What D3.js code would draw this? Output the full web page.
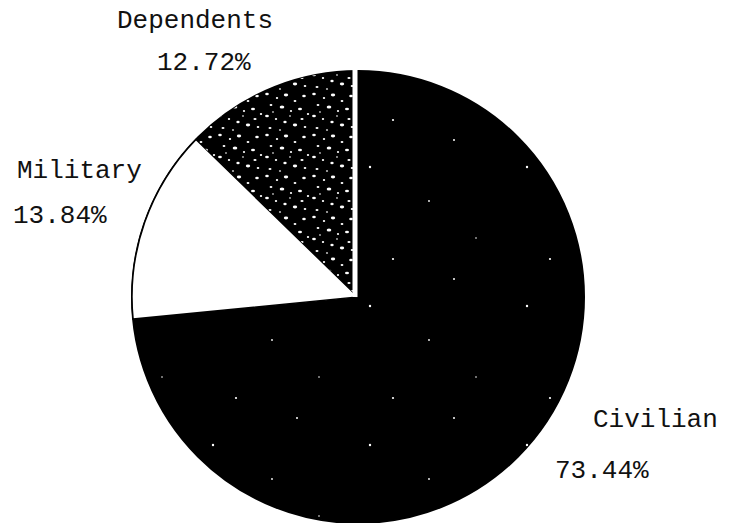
<!DOCTYPE html>
<html>
<head>
<meta charset="utf-8">
<script src="https://cdn.jsdelivr.net/npm/d3@7"></script>
<style>
	body { margin: 0; background: #fff; }
	svg { display: block; }
	.pie-label { font-family: "Liberation Mono", "DejaVu Sans Mono", monospace; font-size: 26px; fill: #111; }
</style>
</head>
<body>
<div id="chart-area"></div>
<script>
// Data
var categories = ["Civilian", "Military", "Dependents"];
var shares = [73.44, 13.84, 12.72];
var pctLabels = ["73.44%", "13.84%", "12.72%"];

/*
	Pie Chart Class
*/
class PieChart{

	constructor(_parentElement, _width, _height){
		this.parentElement = _parentElement;
		this.svgWidth = _width;
		this.svgHeight = _height;

		this.initializeChart();
	}

	initializeChart(){
		var vis = this;

		vis.cx = 358;
		vis.cy = 297;
		vis.radius = 226;

		vis.svg = d3.select(vis.parentElement)
					.append("svg")
					.attr("width", vis.svgWidth)
					.attr("height", vis.svgHeight);

		// Speckle patterns (just texture, the scanned original is grainy)
		var defs = vis.svg.append("defs");

		var dense = defs.append("pattern")
			.attr("id", "speckle-dense")
			.attr("patternUnits", "userSpaceOnUse")
			.attr("width", 47).attr("height", 41);
		dense.append("rect").attr("width", 47).attr("height", 41).attr("fill", "#000");
		var spots = [[3,2,1.8,1.2],[13,6,1.2,0.9],[22,3,2.2,1.4],[31,9,1.4,1],[40,4,1.8,1.2],
		             [7,13,1.4,1],[18,15,2.3,1.5],[27,19,1.1,0.9],[36,17,2,1.3],[44,22,1.2,1],
		             [3,24,1.9,1.2],[12,27,1.2,1],[21,30,1.7,1.2],[31,33,2.2,1.4],[41,35,1.3,1],
		             [6,36,1.5,1.1],[16,38,1.1,0.8],[26,24,0.9,0.8],[38,27,1.6,1.1],[9,20,0.9,0.7]];
		dense.selectAll("ellipse").data(spots).enter().append("ellipse")
			.attr("cx", d => d[0]).attr("cy", d => d[1])
			.attr("rx", d => d[2]).attr("ry", d => d[3])
			.attr("fill", "#fff");

		var sparse = defs.append("pattern")
			.attr("id", "speckle-sparse")
			.attr("patternUnits", "userSpaceOnUse")
			.attr("width", 157).attr("height", 139);
		sparse.append("rect").attr("width", 157).attr("height", 139).attr("fill", "#000");
		var dots = [[12,9,1.2],[71,43,0.9],[35,101,1.1],[118,80,0.8],[96,121,1]];
		sparse.selectAll("circle").data(dots).enter().append("circle")
			.attr("cx", d => d[0]).attr("cy", d => d[1]).attr("r", d => d[2])
			.attr("fill", "#fff");

		vis.g = vis.svg.append("g")
			.attr("class", "pie-chart")
			.attr("transform", "translate(" + vis.cx + "," + vis.cy + ")");

		vis.pie = d3.pie().sort(null).value(d => d);
		vis.arc = d3.arc().innerRadius(0).outerRadius(vis.radius);

		vis.fills = ["url(#speckle-sparse)", "#fff", "url(#speckle-dense)"];

		vis.updateChart();
	}

	updateChart(){
		var vis = this;

		vis.arcs = vis.pie(shares);

		// Outline of the whole pie
		vis.g.append("circle")
			.attr("r", vis.radius)
			.attr("fill", "#fff")
			.attr("stroke", "#000")
			.attr("stroke-width", 2);

		// Slices
		vis.g.selectAll(".slice").data(vis.arcs)
			.enter().append("path")
			.attr("class", "slice")
			.attr("d", vis.arc)
			.attr("fill", (d, i) => vis.fills[i])
			.attr("stroke", (d, i) => i == 1 ? "#000" : "none")
			.attr("stroke-width", 1.5);

		// White gap where the last slice meets the first
		var a = vis.arcs[vis.arcs.length - 1].endAngle;
		vis.g.append("line")
			.attr("x1", -3).attr("y1", 0)
			.attr("x2", vis.radius * Math.sin(a) - 3)
			.attr("y2", -vis.radius * Math.cos(a) - 2)
			.attr("stroke", "#fff")
			.attr("stroke-width", 5);

		// Labels (name, then percentage below)
		var labelPos = [
			{name: [593, 427], pct: [555, 478]},
			{name: [17, 178], pct: [13, 223]},
			{name: [117, 28], pct: [157, 70]}
		];

		categories.forEach(function(c, i){
			vis.svg.append("text")
				.attr("class", "pie-label")
				.attr("x", labelPos[i].name[0])
				.attr("y", labelPos[i].name[1])
				.text(c);
			vis.svg.append("text")
				.attr("class", "pie-label")
				.attr("x", labelPos[i].pct[0])
				.attr("y", labelPos[i].pct[1])
				.text(pctLabels[i]);
		});
	}
}

var chart = new PieChart("#chart-area", 730, 523);
</script>
</body>
</html>
